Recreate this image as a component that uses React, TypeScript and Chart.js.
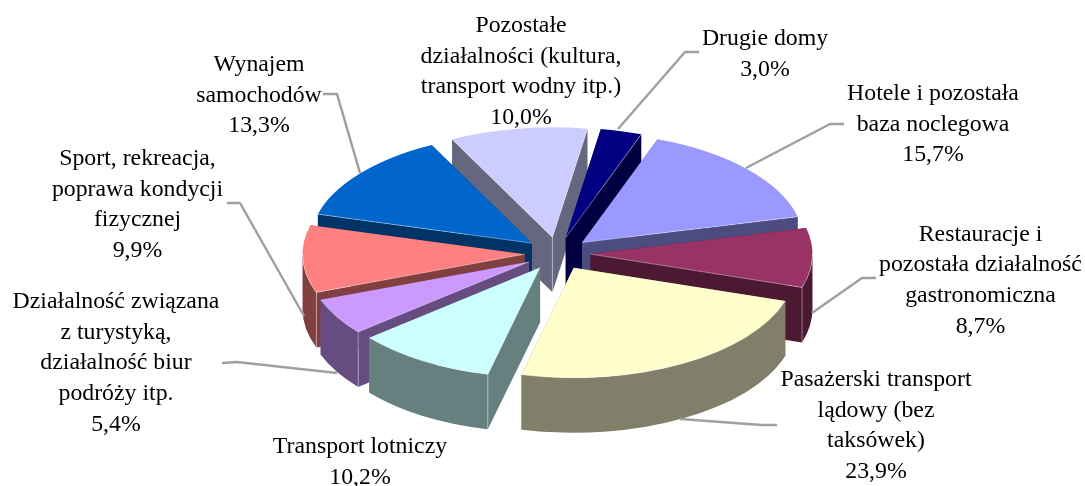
import React, { useEffect, useRef } from "react";
import { Chart, registerables } from "chart.js";

Chart.register(...registerables);

// ---- data (slice order runs clockwise from the far side) ----
const categories = [
  ["Drugie domy"],
  ["Hotele i pozostała", "baza noclegowa"],
  ["Restauracje i", "pozostała działalność", "gastronomiczna"],
  ["Pasażerski transport", "lądowy (bez", "taksówek)"],
  ["Transport lotniczy"],
  ["Działalność związana", "z turystyką,", "działalność biur", "podróży itp."],
  ["Sport, rekreacja,", "poprawa kondycji", "fizycznej"],
  ["Wynajem", "samochodów"],
  ["Pozostałe", "działalności (kultura,", "transport wodny itp.)"],
];
const shares = [3.0, 15.7, 8.7, 23.9, 10.2, 5.4, 9.9, 13.3, 10.0];
const topColors = ["#000080", "#9999FF", "#993366", "#FFFFCC", "#CCFFFF", "#CC99FF", "#FF8080", "#0066CC", "#CCCCFF"];
const wallColors = ["#000040", "#4C4C80", "#4C1933", "#80806A", "#668080", "#664C80", "#804040", "#003366", "#666680"];

// ---- layout and style ----
const CX = 557.5;
const CY = 253.5;
const RX = 222;
const RY = 110;
const DEPTH = 55;
const EXPLODE = 33;
const START_DEG = 9.1;
const FONT = '23.8px "Liberation Serif", "Times New Roman", serif';
const LINE_H = 30.7;
const labelCenterX = [765, 933, 980.5, 876, 360, 116, 137.5, 259, 521];
const labelFirstBase = [45, 100, 240.5, 386, 453, 308, 165, 71, 32];
const leaders: ([number, number][] | null)[] = [
  [[699, 52], [685, 52], [618, 129]],
  [[844, 124], [830, 124], [746, 168]],
  [[876, 278], [862, 278], [812, 313]],
  [[777, 425], [762, 425], [680, 419]],
  null,
  [[222, 363], [237, 362], [337, 373]],
  [[227, 203], [240, 203], [304, 316]],
  [[323, 94], [337, 94], [360, 173]],
  null,
];

const pie3d = {
  id: "pie3d",
  beforeDatasetsDraw(chart: any) {
    const ctx: CanvasRenderingContext2D = chart.ctx;
    const arcs: any[] = chart.getDatasetMeta(0).data;
    const order = arcs
      .map((el, i) => ({ el, i, mid: (el.startAngle + el.endAngle) / 2 }))
      .sort((a, b) => Math.sin(a.mid) - Math.sin(b.mid));

    for (const { el, i, mid } of order) {
      const s = el.startAngle;
      const e = el.endAngle;
      const ax = CX + EXPLODE * Math.cos(mid);
      const ay = CY + EXPLODE * (RY / RX) * Math.sin(mid);
      const px = (a: number) => ax + RX * Math.cos(a);
      const py = (a: number) => ay + RY * Math.sin(a);

      // radial walls
      ctx.fillStyle = wallColors[i];
      for (const a of [s, e]) {
        ctx.beginPath();
        ctx.moveTo(ax, ay);
        ctx.lineTo(px(a), py(a));
        ctx.lineTo(px(a), py(a) + DEPTH);
        ctx.lineTo(ax, ay + DEPTH);
        ctx.closePath();
        ctx.fill();
      }
      // outer wall: the part of the rim on the near side
      const rims: [number, number][] = [];
      for (const k of [-1, 0, 1]) {
        const lo = Math.max(s, 2 * Math.PI * k);
        const hi = Math.min(e, 2 * Math.PI * k + Math.PI);
        if (hi > lo) rims.push([lo, hi]);
      }
      for (const [lo, hi] of rims) {
        ctx.beginPath();
        ctx.ellipse(ax, ay, RX, RY, 0, lo, hi);
        ctx.ellipse(ax, ay + DEPTH, RX, RY, 0, hi, lo, true);
        ctx.closePath();
        ctx.fill();
      }

      // top face, drawn by the library's own arc element
      ctx.save();
      ctx.translate(ax, ay);
      ctx.scale(RX / el.outerRadius, RY / el.outerRadius);
      ctx.translate(-el.x, -el.y);
      el.draw(ctx);
      ctx.restore();

      // fine light seams along visible edges
      ctx.strokeStyle = "rgba(255,255,255,0.55)";
      ctx.lineWidth = 0.7;
      const startVisible = Math.cos(s) < 0;
      const endVisible = Math.cos(e) > 0;
      ctx.beginPath();
      if (startVisible) {
        ctx.moveTo(ax, ay);
        ctx.lineTo(px(s), py(s));
        if (Math.sin(s) > 0) {
          ctx.moveTo(px(s), py(s));
          ctx.lineTo(px(s), py(s) + DEPTH);
        }
      }
      if (endVisible) {
        ctx.moveTo(ax, ay);
        ctx.lineTo(px(e), py(e));
        if (Math.sin(e) > 0) {
          ctx.moveTo(px(e), py(e));
          ctx.lineTo(px(e), py(e) + DEPTH);
        }
      }
      if (startVisible && endVisible) {
        ctx.moveTo(ax, ay);
        ctx.lineTo(ax, ay + DEPTH);
      }
      ctx.stroke();
      for (const [lo, hi] of rims) {
        ctx.beginPath();
        ctx.ellipse(ax, ay, RX, RY, 0, lo, hi);
        ctx.stroke();
      }
    }
    return false;
  },
  afterDraw(chart: any) {
    const ctx: CanvasRenderingContext2D = chart.ctx;
    ctx.save();
    ctx.strokeStyle = "#A0A0A0";
    ctx.lineWidth = 2.5;
    ctx.lineJoin = "round";
    for (const pts of leaders) {
      if (!pts) continue;
      ctx.beginPath();
      pts.forEach(([x, y], k) => (k ? ctx.lineTo(x, y) : ctx.moveTo(x, y)));
      ctx.stroke();
    }
    ctx.fillStyle = "#000";
    ctx.font = FONT;
    ctx.textAlign = "center";
    ctx.textBaseline = "alphabetic";
    categories.forEach((lines, i) => {
      const all = [...lines, shares[i].toFixed(1).replace(".", ",") + "%"];
      all.forEach((t, k) => ctx.fillText(t, labelCenterX[i], labelFirstBase[i] + k * LINE_H));
    });
    ctx.restore();
  },
};

export default function App() {
  const ref = useRef<HTMLCanvasElement>(null);
  useEffect(() => {
    const chart = new Chart(ref.current!, {
      type: "pie",
      data: {
        labels: categories.map((c) => c.join(" ")),
        datasets: [{ data: shares, backgroundColor: topColors, borderWidth: 0 }],
      },
      options: {
        responsive: false,
        animation: false,
        rotation: START_DEG,
        plugins: { legend: { display: false }, tooltip: { enabled: false } },
      },
      plugins: [pie3d],
    } as any);
    return () => chart.destroy();
  }, []);
  return (
    <div style={{ position: "absolute", left: 0, top: 0, width: 1085, height: 486, overflow: "hidden", background: "#fff" }}>
      <canvas ref={ref} width={1085} height={486} style={{ display: "block" }} />
    </div>
  );
}
